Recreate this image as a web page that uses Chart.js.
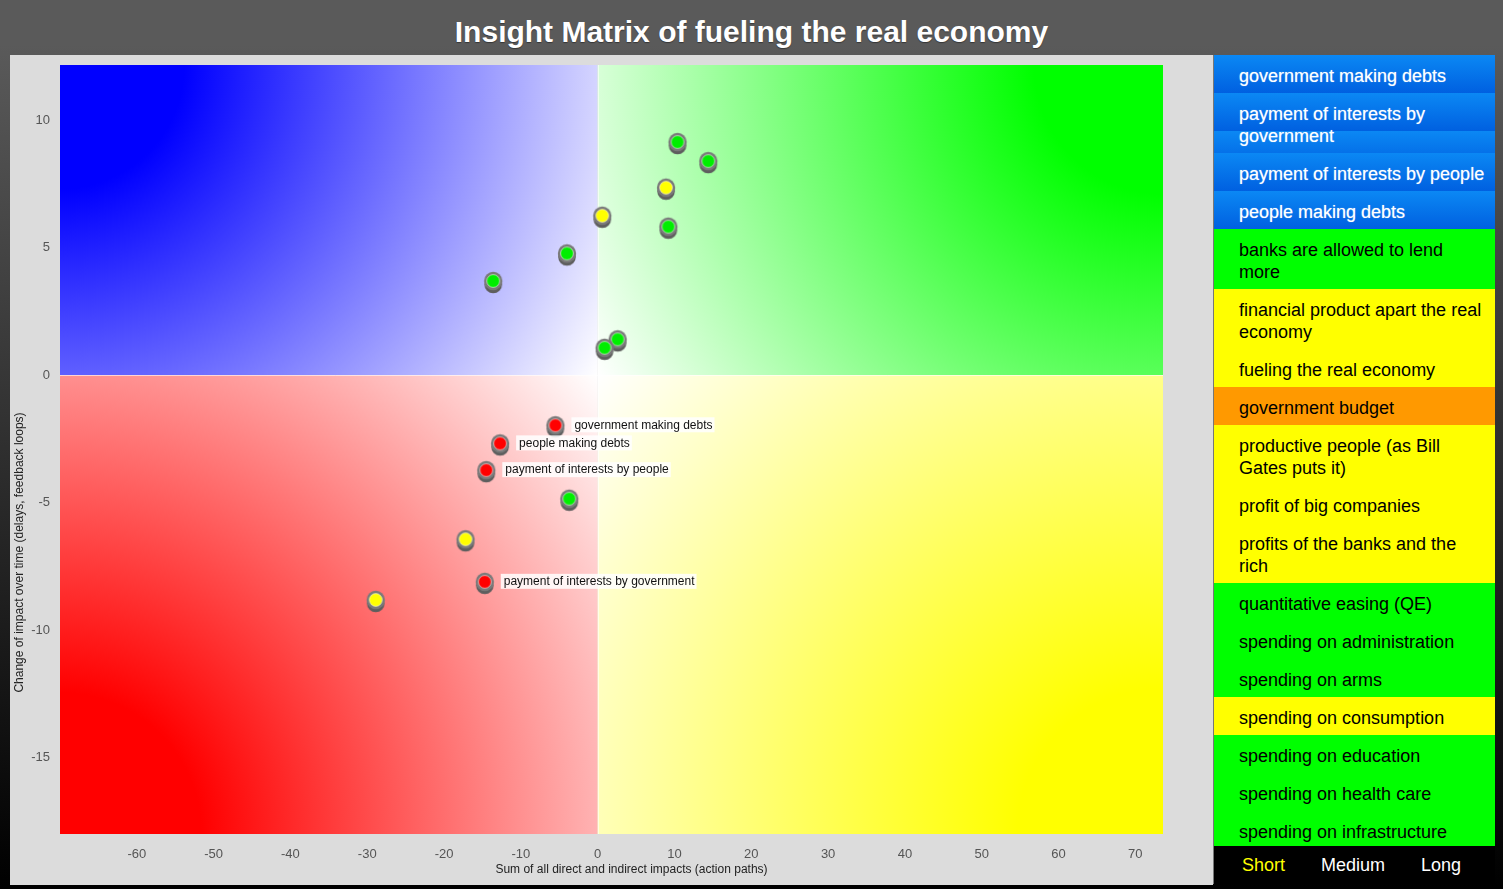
<!DOCTYPE html>
<html>
<head>
<meta charset="utf-8">
<title>Insight Matrix</title>
<script src="https://cdn.jsdelivr.net/npm/chart.js@4.4.1/dist/chart.umd.min.js"></script>
<style>
    html, body {
        margin: 0;
        padding: 0;
    }
    body {
        width: 1503px;
        height: 889px;
        overflow: hidden;
        position: relative;
        background: linear-gradient(#5a5a5a 0%, #5a5a5a 5%, #000 100%);
        font-family: "Liberation Sans", Arial, Helvetica, sans-serif;
    }
    #title {
        position: absolute;
        left: 0;
        top: 14px;
        width: 1503px;
        text-align: center;
        color: #fff;
        font-weight: bold;
        font-size: 30px;
        line-height: 36px;
        text-shadow: 0 1px 1px rgba(0, 0, 0, 0.4);
    }
    #panel {
        position: absolute;
        left: 10px;
        top: 55px;
        width: 1203px;
        height: 830px;
        background: #dcdcdc;
    }
    #side {
        position: absolute;
        left: 1213px;
        top: 55px;
        width: 281px;
        height: 829px;
        border-left: 1px solid #777;
        background: #000;
    }
    #factors {
        list-style: none;
        margin: 0;
        padding: 0;
        height: 791px;
        overflow: hidden;
    }
    #factors li {
        padding: 10px 6px 6px 25px;
        font-size: 18px;
        line-height: 22px;
        color: #000;
    }
    #factors li.blue {
        color: #fff;
        background: linear-gradient(#0b88f4, #0060e0);
        background-size: 100% 38px;
        text-shadow: 0 0 1px rgba(255, 255, 255, 0.6);
    }
    #factors li.green { background: #00ff00; }
    #factors li.yellow { background: #ffff00; }
    #factors li.orange { background: #ff9900; }
    #footer {
        height: 38px;
        line-height: 38px;
        padding-left: 28px;
        font-size: 18px;
        color: #fff;
    }
    #footer span {
        margin-right: 36px;
    }
    #footer span.on {
        color: #ffff00;
    }
</style>
</head>
<body>
<div id="title">Insight Matrix of fueling the real economy</div>
<div id="panel"><canvas id="matrix" width="1200" height="830"></canvas></div>
<div id="side">
    <ul id="factors"></ul>
    <div id="footer"><span class="on">Short</span><span>Medium</span><span>Long</span></div>
</div>
<script>
// factor positions: x = sum of impacts, y = change of impact over time
const xValues = [10.4, 14.4, 8.9, 0.6, 9.2, -4.0, -13.6, 2.6, 0.9,
                 -5.5, -12.7, -14.5, -3.7, -17.2, -14.7, -28.9];
const yValues = [9.14, 8.39, 7.35, 6.25, 5.82, 4.77, 3.69, 1.40, 1.07,
                 -1.97, -2.68, -3.73, -4.85, -6.44, -8.11, -8.82];
const pointKinds = ['green', 'green', 'yellow', 'yellow', 'green', 'green', 'green', 'green', 'green',
                    'red', 'red', 'red', 'green', 'yellow', 'red', 'yellow'];
const pointLabels = ['', '', '', '', '', '', '', '', '',
                     'government making debts', 'people making debts', 'payment of interests by people', '',
                     '', 'payment of interests by government', ''];

const xTicks = [-60, -50, -40, -30, -20, -10, 0, 10, 20, 30, 40, 50, 60, 70];
const yTicks = [10, 5, 0, -5, -10, -15];

const factorNames = [
    'government making debts',
    'payment of interests by government',
    'payment of interests by people',
    'people making debts',
    'banks are allowed to lend more',
    'financial product apart the real economy',
    'fueling the real economy',
    'government budget',
    'productive people (as Bill Gates puts it)',
    'profit of big companies',
    'profits of the banks and the rich',
    'quantitative easing (QE)',
    'spending on administration',
    'spending on arms',
    'spending on consumption',
    'spending on education',
    'spending on health care',
    'spending on infrastructure'
];
const factorKinds = ['blue', 'blue', 'blue', 'blue', 'green', 'yellow', 'yellow', 'orange', 'yellow',
                     'yellow', 'yellow', 'green', 'green', 'green', 'yellow', 'green', 'green', 'green'];

const KIND_COLORS = {
    green: '#00ee00',
    yellow: '#ffff00',
    red: '#ff0000'
};

// side list
const list = document.getElementById('factors');
factorNames.forEach((name, i) => {
    const li = document.createElement('li');
    li.className = factorKinds[i];
    li.textContent = name;
    list.appendChild(li);
});

// button-like marker: grey base with a coloured dot on top
function makeMarker(color) {
    const c = document.createElement('canvas');
    c.width = 26;
    c.height = 32;
    const g = c.getContext('2d');
    const cx = 13, cy = 16;
    g.fillStyle = '#5e5e5e';
    g.beginPath();
    g.arc(cx, cy + 3.5, 8.8, 0, Math.PI * 2);
    g.fill();
    g.fillStyle = '#7a7a7a';
    g.beginPath();
    g.arc(cx, cy, 9.2, 0, Math.PI * 2);
    g.fill();
    g.fillStyle = color;
    g.beginPath();
    g.arc(cx, cy, 6.4, 0, Math.PI * 2);
    g.fill();
    g.strokeStyle = 'rgba(255,255,255,0.55)';
    g.lineWidth = 1;
    g.stroke();
    return c;
}

const markers = {};
Object.keys(KIND_COLORS).forEach(k => { markers[k] = makeMarker(KIND_COLORS[k]); });

const quadrantPlugin = {
    id: 'quadrants',
    beforeDatasetsDraw(chart) {
        const { ctx, chartArea: a, scales } = chart;
        const x0 = scales.x.getPixelForValue(0);
        const y0 = scales.y.getPixelForValue(0);
        const quads = [
            { l: a.left, t: a.top, r: x0, b: y0, ox: a.left, oy: a.top, color: '#0000ff' },
            { l: x0, t: a.top, r: a.right, b: y0, ox: a.right, oy: a.top, color: '#00ff00' },
            { l: a.left, t: y0, r: x0, b: a.bottom, ox: a.left, oy: a.bottom, color: '#ff0000' },
            { l: x0, t: y0, r: a.right, b: a.bottom, ox: a.right, oy: a.bottom, color: '#ffff00' }
        ];
        ctx.save();
        quads.forEach(q => {
            const rad = Math.hypot(q.r - q.l, q.b - q.t);
            const grad = ctx.createRadialGradient(q.ox, q.oy, 0, q.ox, q.oy, rad);
            grad.addColorStop(0, q.color);
            grad.addColorStop(0.2, q.color);
            grad.addColorStop(1, '#ffffff');
            ctx.fillStyle = grad;
            ctx.fillRect(q.l, q.t, q.r - q.l, q.b - q.t);
        });
        ctx.strokeStyle = 'rgba(255,255,255,0.6)';
        ctx.lineWidth = 1;
        ctx.beginPath();
        ctx.moveTo(Math.round(x0) + 0.5, a.top);
        ctx.lineTo(Math.round(x0) + 0.5, a.bottom);
        ctx.moveTo(a.left, Math.round(y0) + 0.5);
        ctx.lineTo(a.right, Math.round(y0) + 0.5);
        ctx.stroke();
        ctx.restore();
    }
};

const labelPlugin = {
    id: 'pointNames',
    afterDatasetsDraw(chart) {
        const ctx = chart.ctx;
        const meta = chart.getDatasetMeta(0);
        ctx.save();
        ctx.font = '12px "Liberation Sans", Arial, sans-serif';
        ctx.textBaseline = 'middle';
        meta.data.forEach((el, i) => {
            const text = pointLabels[i];
            if (!text) {
                return;
            }
            const w = ctx.measureText(text).width;
            ctx.fillStyle = 'rgba(255,255,255,0.85)';
            ctx.fillRect(el.x + 16, el.y - 8, w + 5, 15);
            ctx.fillStyle = '#111';
            ctx.fillText(text, el.x + 19, el.y);
        });
        ctx.restore();
    }
};

const axisTitlePlugin = {
    id: 'axisTitles',
    afterDraw(chart) {
        const { ctx, chartArea: a } = chart;
        ctx.save();
        ctx.font = '12px "Liberation Sans", Arial, sans-serif';
        ctx.fillStyle = '#222';
        ctx.textAlign = 'center';
        ctx.textBaseline = 'middle';
        ctx.fillText('Sum of all direct and indirect impacts (action paths)',
            (a.left + a.right) / 2 + 20, a.bottom + 36);
        ctx.translate(10, (a.top + a.bottom) / 2 + 103);
        ctx.rotate(-Math.PI / 2);
        ctx.fillText('Change of impact over time (delays, feedback loops)', 0, 0);
        ctx.restore();
    }
};

const tickFont = { family: '"Liberation Sans", Arial, sans-serif', size: 13 };

new Chart(document.getElementById('matrix'), {
    type: 'scatter',
    data: {
        datasets: [{
            data: xValues.map((x, i) => ({ x: x, y: yValues[i] })),
            pointStyle: ctx => markers[pointKinds[ctx.dataIndex]],
            pointRadius: 9,
            pointHoverRadius: 9
        }]
    },
    options: {
        responsive: false,
        animation: false,
        events: [],
        layout: {
            padding: { top: 10, right: 47, bottom: 0, left: 0 }
        },
        plugins: {
            legend: { display: false },
            tooltip: { enabled: false }
        },
        scales: {
            x: {
                type: 'linear',
                min: -70,
                max: 73.6,
                grid: { display: false, drawTicks: false },
                border: { display: false },
                ticks: { color: '#555', font: tickFont, padding: 13 },
                afterBuildTicks: s => { s.ticks = xTicks.map(v => ({ value: v })); },
                afterFit: s => {
                    s.height = 51;
                    s.paddingLeft = 0;
                    s.paddingRight = 0;
                }
            },
            y: {
                type: 'linear',
                min: -18,
                max: 12.16,
                grid: { display: false, drawTicks: false },
                border: { display: false },
                ticks: { color: '#555', font: tickFont, padding: 10 },
                afterBuildTicks: s => { s.ticks = yTicks.map(v => ({ value: v })); },
                afterFit: s => {
                    s.width = 50;
                    s.paddingTop = 0;
                    s.paddingBottom = 0;
                }
            }
        }
    },
    plugins: [quadrantPlugin, labelPlugin, axisTitlePlugin]
});
</script>
</body>
</html>
